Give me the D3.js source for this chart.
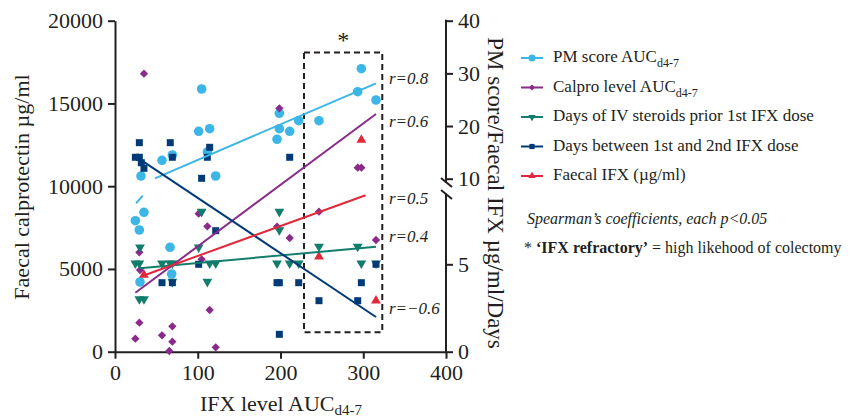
<!DOCTYPE html>
<html>
<head>
<meta charset="utf-8">
<script src="https://cdn.jsdelivr.net/npm/d3@7"></script>
<style>
    body { margin: 0; background: #fff; }
    text { font-family: "Liberation Serif", "DejaVu Serif", serif; fill: #231f20; }
</style>
</head>
<body>
<div id="vis"></div>
<script>
// data, all in left-axis units (x: IFX level AUC, y: faecal calprotectin)
var xTicks = [0, 100, 200, 300, 400];
var yTicks = [0, 5000, 10000, 15000, 20000];
var rightLowTicks = [0, 5];
var rightHighTicks = [10, 20, 30, 40];

var pmScore = [[24.6, 7915], [29.4, 7354], [35, 8423], [31.4, 10616], [30.2, 4211], [56.8, 11565],
    [69.3, 11885], [68.5, 4695], [66.5, 6307], [101.1, 13317], [104.7, 15873], [114.4, 13476],
    [111.6, 12066], [121.7, 10616], [195.8, 12833], [198.6, 13476], [198.6, 14404], [211.1, 13317],
    [222, 13960], [246.5, 13960], [293.3, 15710], [297.7, 17100], [315.4, 15208]];

var calpro = [[35, 16800], [24.6, 785], [29.4, 1752], [29.4, 6006], [30.2, 4934], [56.8, 990],
    [69.3, 1535], [69.3, 604], [65.6, 42], [101.1, 8338], [104.7, 5583], [111.6, 7577], [114.4, 2520],
    [121.7, 266], [195.8, 7553], [198.6, 14706], [211.1, 6870], [246.5, 8459], [293.3, 11118],
    [297.7, 11118], [315.4, 6749]];

var steroidDays = [[24.6, 5341], [29.4, 5341], [30.2, 6307], [29.4, 3184], [35, 3184], [56.8, 5341],
    [66.5, 5341], [69.3, 5341], [69.3, 4230], [101.1, 6307], [104.7, 8459], [111.6, 4230], [114.4, 5341],
    [121.7, 5341], [195.8, 5341], [198.6, 8459], [198.6, 7354], [211.1, 5341], [222, 5341],
    [246.5, 6347], [293.3, 6347], [297.7, 5341], [315.4, 5341]];

var doseGapDays = [[24.6, 11748], [29.4, 12631], [29.4, 11748], [31.8, 11420], [35, 11080], [66.8, 12631],
    [69.3, 11748], [56.8, 4170], [69.3, 4170], [101.1, 5281], [104.7, 10477], [111.6, 11748],
    [114.4, 12350], [121.7, 7311], [195.8, 4170], [198.6, 4170], [198.6, 1050], [211.1, 11748],
    [222, 4170], [246.5, 3082], [293.3, 3082], [297.7, 4170], [315.4, 5281]];

var faecalIfx = [[35, 4634], [246.5, 5740], [297.7, 12790], [315.4, 3082]];

// trend lines as [x0, y0, x1, y1]
var trendPm = [[25.4, 8967, 33.5, 9426], [48.3, 10477, 315.4, 16213]];
var trendCalpro = [[24.6, 3565, 315.4, 14363]];
var trendSteroid = [[30.2, 5039, 315.4, 6345]];
var trendDoseGap = [[30.2, 11625, 315.4, 2097]];
var trendFaecal = [[33, 4574, 302.9, 9450]];

var rLabels = [['r=0.8', 16200], ['r=0.6', 13600], ['r=0.5', 8900], ['r=0.4', 6600], ['r=\u22120.6', 2300]];

var refractoryBox = [228.4, 18086, 323, 1168];

var series = [
    { name: 'PM score AUC', sub: 'd4-7', color: '#3cb6e6', symbol: 'circle', data: pmScore, trend: trendPm },
    { name: 'Calpro level AUC', sub: 'd4-7', color: '#8a2a8b', symbol: 'diamond', data: calpro, trend: trendCalpro },
    { name: 'Days of IV steroids prior 1st IFX dose', sub: null, color: '#137d6c', symbol: 'down', data: steroidDays, trend: trendSteroid },
    { name: 'Days between 1st and 2nd IFX dose', sub: null, color: '#023a78', symbol: 'square', data: doseGapDays, trend: trendDoseGap },
    { name: 'Faecal IFX (\u00b5g/ml)', sub: null, color: '#e1283c', symbol: 'up', data: faecalIfx, trend: trendFaecal }
];

function symbolPath(kind, scale)
{
    if(!scale) scale = 1;
    var gen = d3.symbol();
    if(kind == 'circle') gen.type(d3.symbolCircle).size(72 * scale);
    else if(kind == 'diamond') gen.type(d3.symbolDiamond2).size(44 * scale);
    else if(kind == 'square') gen.type(d3.symbolSquare).size(49 * scale);
    else gen.type(d3.symbolTriangle).size(42 * scale);
    return gen();
}

function symbolRotate(kind)
{
    return kind == 'down' ? ' rotate(180)' : '';
}

window.onload = function()
{
    var width = 850, height = 418;
    var svg = d3.select('#vis').append('svg')
        .attr('width', width)
        .attr('height', height);

    var x = d3.scaleLinear().domain([0, 400]).range([115, 446]);
    var y = d3.scaleLinear().domain([0, 20000]).range([351.7, 20.7]);
    var yLow = d3.scaleLinear().domain([0, 5]).range([351.7, 264.3]);
    var yHigh = d3.scaleLinear().domain([10, 40]).range([178.7, 20.7]);

    var axisColor = '#231f20';
    var fmt = d3.format('d');

    // bottom axis
    var gx = svg.append('g')
        .attr('transform', 'translate(0,' + y(0) + ')')
        .call(d3.axisBottom(x).tickValues(xTicks).tickFormat(fmt).tickSize(7).tickSizeOuter(0).tickPadding(6));
    gx.selectAll('text').style('font-size', '22px').attr('fill', axisColor);

    // left axis
    var gy = svg.append('g')
        .attr('transform', 'translate(' + x(0) + ',0)')
        .call(d3.axisLeft(y).tickValues(yTicks).tickFormat(fmt).tickSize(7).tickSizeOuter(0).tickPadding(5));
    gy.selectAll('text').style('font-size', '22px').attr('fill', axisColor);

    // right axis in two pieces with a break
    var gr1 = svg.append('g')
        .attr('transform', 'translate(' + x(400) + ',0)')
        .call(d3.axisRight(yLow).tickValues(rightLowTicks).tickFormat(fmt).tickSize(7).tickPadding(5));
    var gr2 = svg.append('g')
        .attr('transform', 'translate(' + x(400) + ',0)')
        .call(d3.axisRight(yHigh).tickValues(rightHighTicks).tickFormat(fmt).tickSize(7).tickPadding(5));
    gr1.select('.domain').remove();
    gr2.select('.domain').remove();
    gr1.selectAll('text').style('font-size', '22px').attr('fill', axisColor);
    gr2.selectAll('text').style('font-size', '22px').attr('fill', axisColor);

    svg.selectAll('.domain, .tick line')
        .attr('stroke', axisColor)
        .attr('stroke-width', 2);

    var xr = x(400);
    svg.append('line').attr('x1', xr).attr('x2', xr).attr('y1', yHigh(40) - 1).attr('y2', 183)
        .attr('stroke', axisColor).attr('stroke-width', 2);
    svg.append('line').attr('x1', xr).attr('x2', xr).attr('y1', 194).attr('y2', yLow(0) + 1)
        .attr('stroke', axisColor).attr('stroke-width', 2);
    svg.append('line').attr('x1', xr - 5).attr('x2', xr + 6).attr('y1', 178).attr('y2', 187)
        .attr('stroke', axisColor).attr('stroke-width', 2);
    svg.append('line').attr('x1', xr - 5).attr('x2', xr + 6).attr('y1', 190).attr('y2', 199)
        .attr('stroke', axisColor).attr('stroke-width', 2);

    // axis titles
    var xTitle = svg.append('text')
        .attr('x', 281).attr('y', 411)
        .attr('text-anchor', 'middle')
        .style('font-size', '22px')
        .text('IFX level AUC');
    xTitle.append('tspan').attr('dy', 4).style('font-size', '15px').text('d4-7');

    svg.append('text')
        .attr('transform', 'translate(29,187) rotate(-90)')
        .attr('text-anchor', 'middle')
        .style('font-size', '22px')
        .text('Faecal calprotectin \u00b5g/ml');

    svg.append('text')
        .attr('transform', 'translate(488,193) rotate(90)')
        .attr('text-anchor', 'middle')
        .style('font-size', '23px')
        .text('PM score/Faecal IFX \u00b5g/ml/Days');

    // refractory box
    svg.append('rect')
        .attr('x', x(refractoryBox[0]))
        .attr('y', y(refractoryBox[1]))
        .attr('width', x(refractoryBox[2]) - x(refractoryBox[0]))
        .attr('height', y(refractoryBox[3]) - y(refractoryBox[1]))
        .attr('fill', 'none')
        .attr('stroke', '#231f20')
        .attr('stroke-width', 2)
        .attr('stroke-dasharray', '6,4');

    svg.append('text')
        .attr('x', x((refractoryBox[0] + refractoryBox[2]) / 2))
        .attr('y', 48)
        .attr('text-anchor', 'middle')
        .style('font-size', '24px')
        .text('*');

    // markers, drawn series by series
    series.forEach(function(s)
    {
        svg.append('g').selectAll('path')
            .data(s.data)
            .enter()
            .append('path')
            .attr('d', symbolPath(s.symbol))
            .attr('fill', s.color)
            .attr('transform', function(d) { return 'translate(' + x(d[0]) + ',' + y(d[1]) + ')' + symbolRotate(s.symbol); });
    });

    // trend lines on top
    series.forEach(function(s)
    {
        svg.append('g').selectAll('line')
            .data(s.trend)
            .enter()
            .append('line')
            .attr('x1', function(d) { return x(d[0]); })
            .attr('y1', function(d) { return y(d[1]); })
            .attr('x2', function(d) { return x(d[2]); })
            .attr('y2', function(d) { return y(d[3]); })
            .attr('stroke', s.color)
            .attr('stroke-width', 2);
    });

    // correlation labels
    svg.append('g').selectAll('text')
        .data(rLabels)
        .enter()
        .append('text')
        .attr('x', 389)
        .attr('y', function(d) { return y(d[1]); })
        .style('font-size', '17px')
        .style('font-style', 'italic')
        .attr('fill', '#333')
        .text(function(d) { return d[0]; });

    // legend
    var legend = svg.append('g').attr('transform', 'translate(521,0)');
    series.forEach(function(s, i)
    {
        var base = 62 + i * 29.5;
        var row = legend.append('g');
        row.append('line')
            .attr('x1', 0).attr('x2', 22)
            .attr('y1', base - 4).attr('y2', base - 4)
            .attr('stroke', s.color)
            .attr('stroke-width', 2);
        row.append('path')
            .attr('d', symbolPath(s.symbol, 0.55))
            .attr('fill', s.color)
            .attr('transform', 'translate(11,' + (base - 4) + ')' + symbolRotate(s.symbol));
        var t = row.append('text')
            .attr('x', 32)
            .attr('y', base)
            .style('font-size', '17px')
            .text(s.name);
        if(s.sub)
        {
            t.append('tspan').attr('dy', 5).style('font-size', '12px').text(s.sub);
        }
    });

    svg.append('text')
        .attr('x', 527).attr('y', 224)
        .style('font-size', '16px')
        .style('font-style', 'italic')
        .text('Spearman\u2019s coefficients, each p<0.05');

    var note = svg.append('text')
        .attr('x', 524).attr('y', 253)
        .style('font-size', '16px');
    note.append('tspan').text('* ');
    note.append('tspan').style('font-weight', 'bold').text('\u2018IFX refractory\u2019');
    note.append('tspan').text(' = high likehood of colectomy');
}
</script>
</body>
</html>
